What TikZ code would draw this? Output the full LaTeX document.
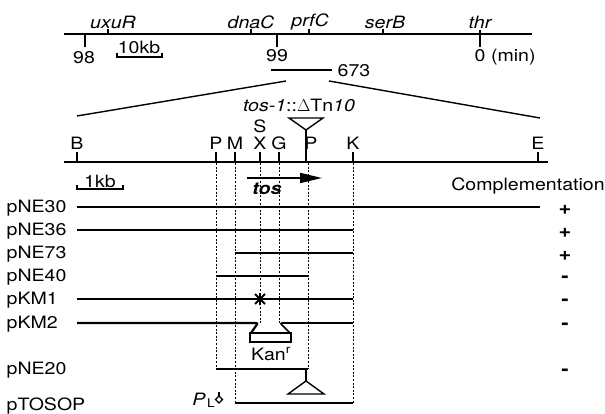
\documentclass[tikz,border=0pt]{standalone}
\usepackage{fontspec}
\setmainfont{TeX Gyre Heros}[FakeStretch=1.15]
\usetikzlibrary{arrows.meta}

\tikzset{
    lbl/.style={inner sep=0pt},
    plasmid/.style={line width=2.2pt},
    site/.style={dash pattern=on 2pt off 1.6pt, line width=1pt},
    res/.style={inner sep=0pt, font=\fontsize{19}{20}\selectfont\bfseries},
}

\begin{document}
\begin{tikzpicture}[x=1pt, y=-1pt, line width=1.4pt, font=\fontsize{17}{19}\selectfont]
    \useasboundingbox (0,0) rectangle (605,414);
    % chromosome, min 98 - 0
    \draw (64,34) -- (532,34);
    \foreach \x/\gene/\lx in {108/uxuR/113,251/dnaC/251,309/prfC/310,383/serB/385}{
        \draw (\x,34) -- (\x,29);
        \node[lbl] at (\lx,22) {\itshape\gene};
    }
    \node[lbl] at (480,22) {\itshape thr};
    \draw (480,30) -- (480,47);
    \draw (85,34) -- (85,47);
    \draw (277,34) -- (277,47);
    \node[lbl] (m98) at (84,58) {98};
    \node[lbl] (m99) at (277,56) {99};
    \node[lbl, anchor=west] (m0) at (474,57) {0 (min)};
    \node[lbl] (kb10) at (139,47) {10kb};
    \draw (117,53) -- (117,57) -- (162,57) -- (162,53);
    % clone 673
    \draw[line width=2.2pt] (271,70) -- (332,70);
    \node[lbl, anchor=west] (c673) at (337,71) {673};
    \draw (286,81) -- (77,116);
    \draw (329,81) -- (540,118);

    % restriction map
    \draw[line width=1.6pt] (64,162) -- (548,162);
    \foreach \x/\lab in {77/B,216/P,235/M,260/X,279/G,353/K,538/E}{
        \draw (\x,162) -- (\x,152);
        \node[lbl] at (\x,143) {\lab};
    }
    \node[lbl] at (260,126) {S};
    \node[lbl] at (311,143) {P};
    \node[lbl] (tn) at (299,105) {\itshape tos-1\upshape::$\Delta$Tn\itshape 10};
    \draw (289,118) -- (323,118) -- (306,130) -- cycle;
    \draw (306,130) -- (306,152);
    \draw[line width=2.6pt] (306,150) -- (306,162);
    \draw[line width=1.8pt, -{Triangle[length=22pt,width=10pt]}] (247,178) -- (322,178);
    \node[lbl] (tos) at (267,189) {\bfseries\itshape tos};
    \node[lbl] (kb1) at (100,181) {1kb};
    \draw (77,185) -- (77,189) -- (123,189) -- (123,185);
    \node[lbl] (compl) at (528,186) {Complementation};

    % dashed site lines
    \foreach \x/\yend in {216/369,235/403,260/323,279/323,308/369,353/403}
        \draw[site] (\x,163) -- (\x,\yend);

    % plasmids
    \foreach \name/\y/\xa/\xb/\res in {pNE30/207/77/540/+,pNE36/230/77/353/+,pNE73/253/235/353/+,pNE40/276/216/308/-,pKM1/299/77/353/-,pNE20/369/216/308/-}{
        \node[lbl, anchor=west] at (6,\y+1) {\name};
        \draw[plasmid] (\xa,\y) -- (\xb,\y);
        \node[res] at (565,\y+3) {\res};
    }
    % pKM1 point mutation
    \draw[line width=1.8pt] (255,294) -- (265,304) (255,304) -- (265,294) (260,293) -- (260,305);
    % pKM2 with Kan insertion
    \node[lbl, anchor=west] at (6,324) {pKM2};
    \node[res] at (565,326) {-};
    \draw[plasmid, rounded corners=2pt] (77,323) -- (258,323) -- (251,333);
    \draw[line width=1.6pt, rounded corners=2pt] (290,333) -- (280,323) -- (353,323);
    \draw[line width=1.5pt, fill=white] (250,333) rectangle (291,342);
    \node[lbl] (kan) at (271,354) {Kan\textsuperscript{r}};
    % pNE20 insertion
    \draw (306,369) -- (306,381);
    \draw (306,381) -- (288,394) -- (324,394) -- cycle;
    % pTOSOP
    \node[lbl, anchor=west] at (6,406) {pTOSOP};
    \draw[plasmid] (235,403) -- (353,403);
    \node[lbl] (pl) at (199,399) {\itshape P};
    \node[lbl] at (211,403) {\fontsize{12}{13}\selectfont L};
    \draw[line width=1.1pt] (219,392) -- (219,396);
    \draw[line width=1.4pt] (215.5,399.5) -- (219,396) -- (222.5,399.5) -- (219,403) -- cycle;
\end{tikzpicture}
\end{document}
